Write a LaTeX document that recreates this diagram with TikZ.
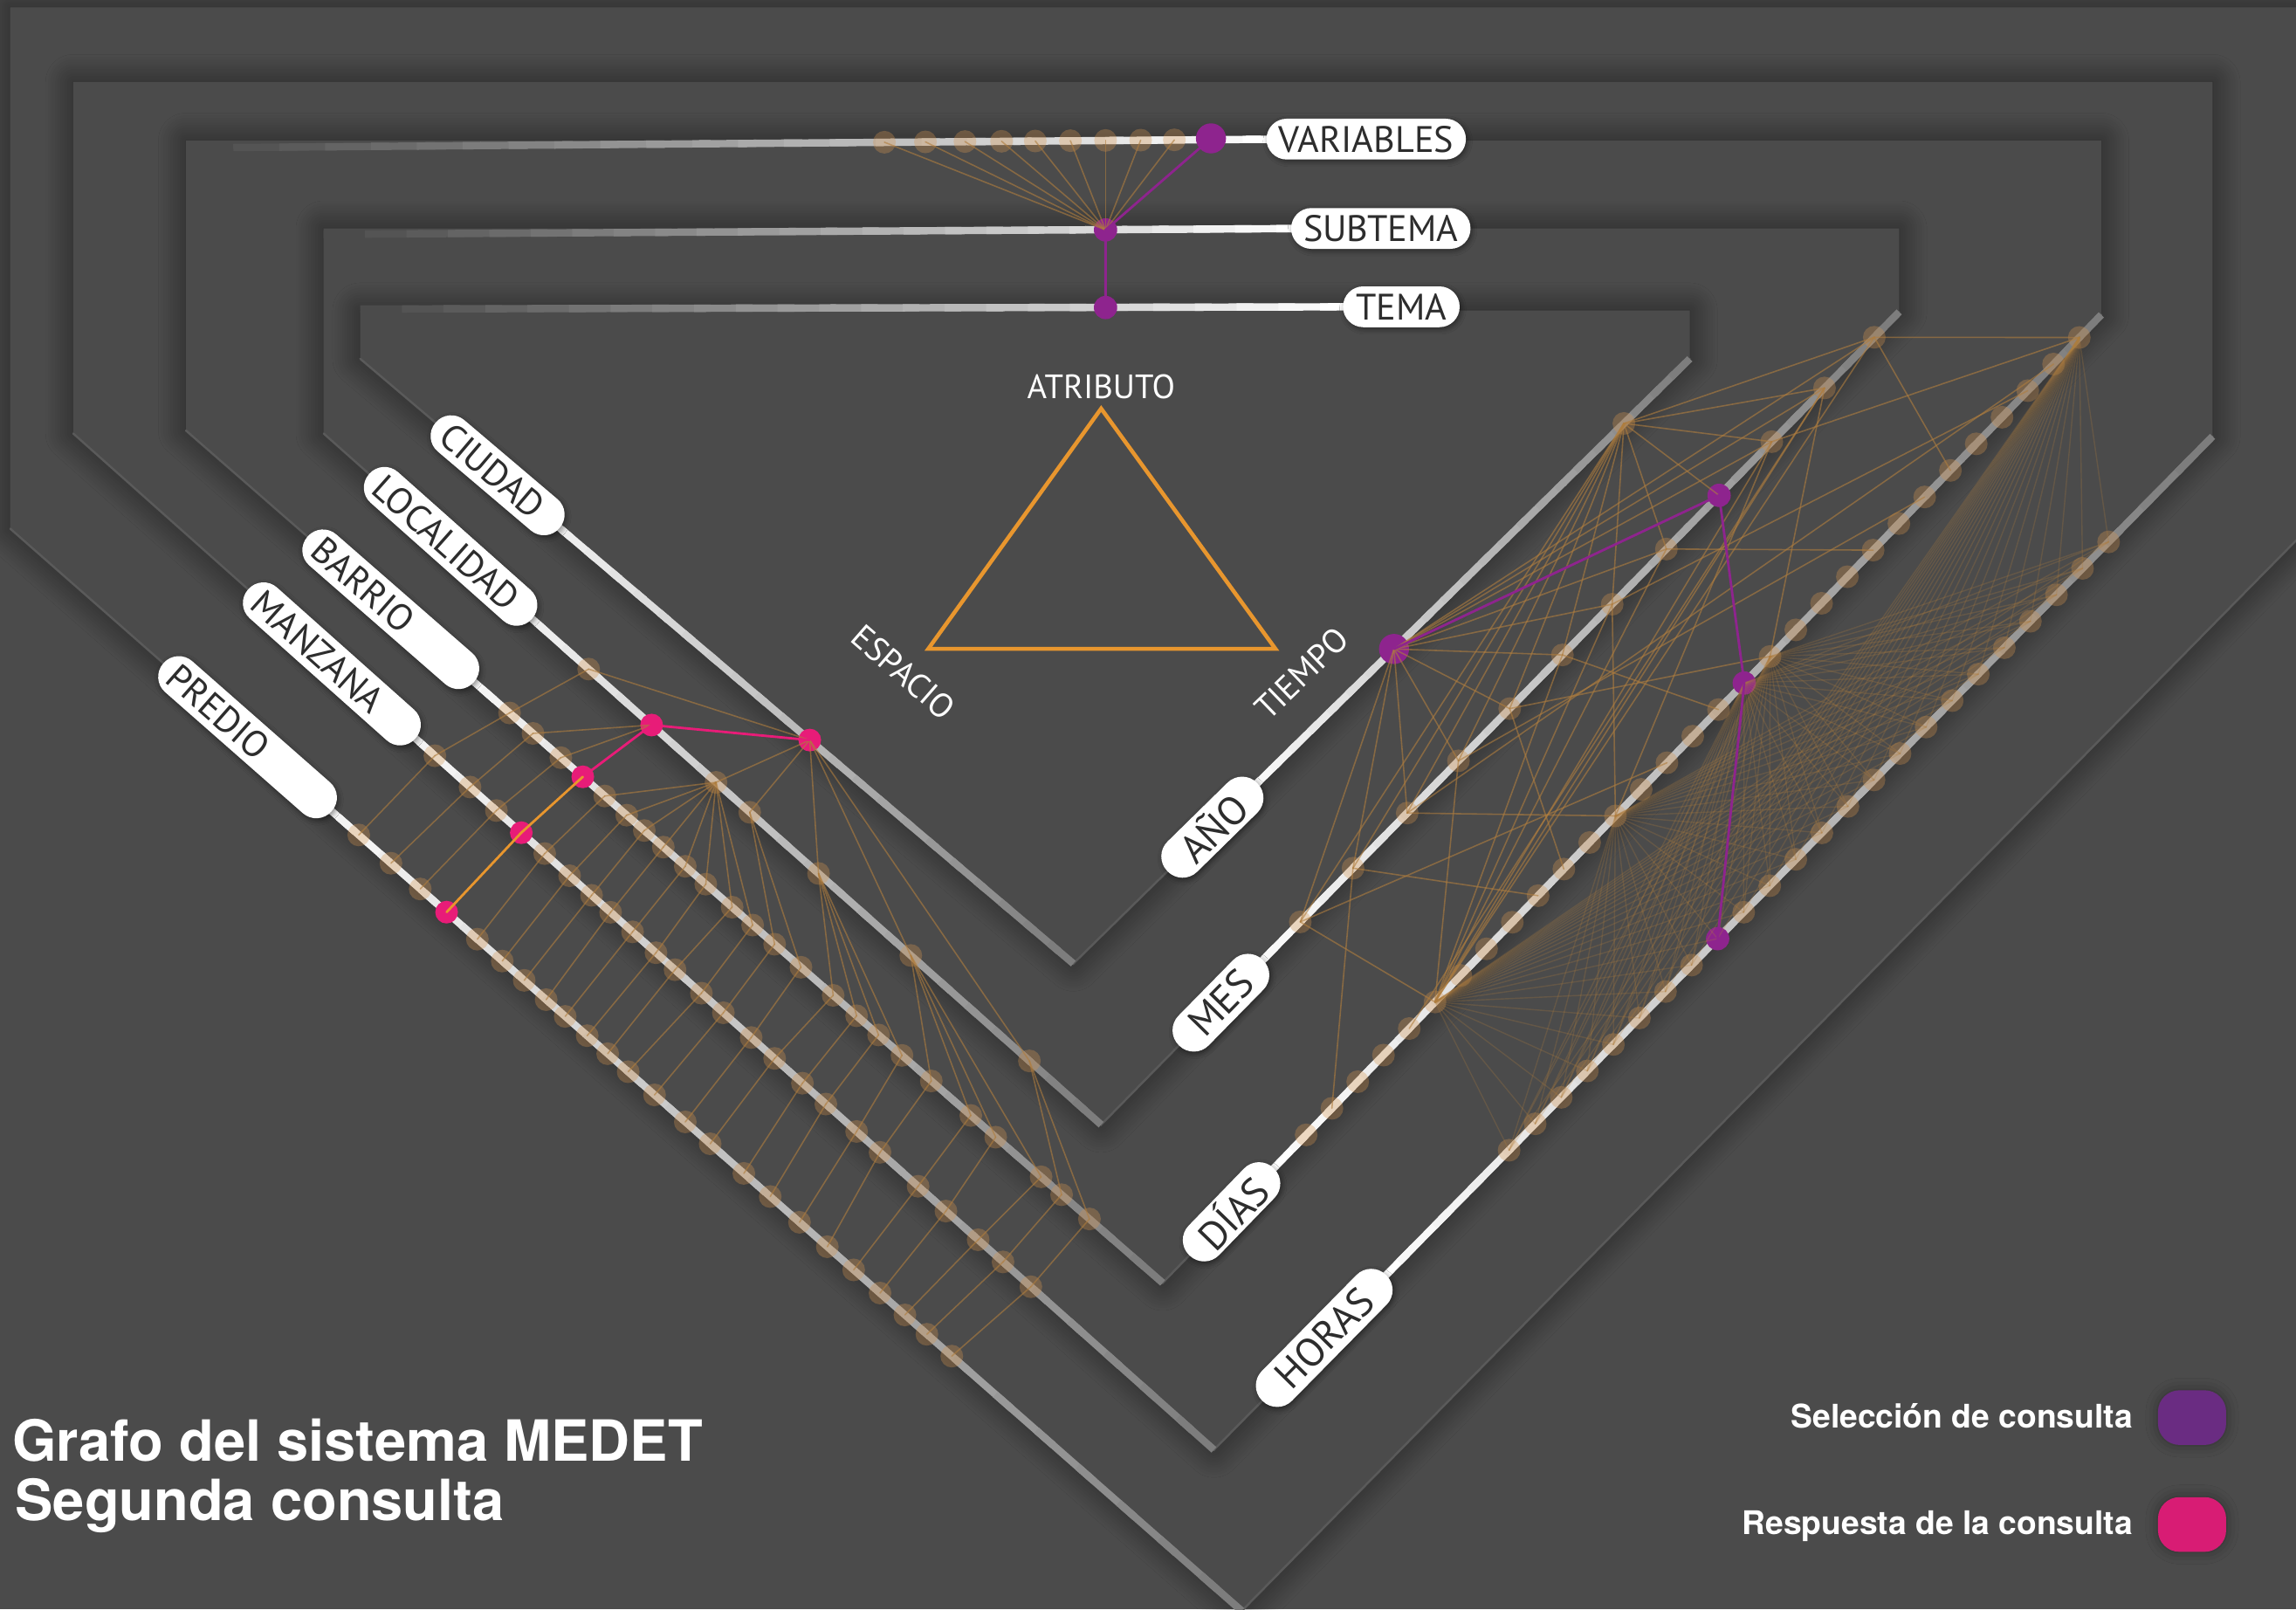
\documentclass[tikz,border=0pt]{standalone}
\usepackage{fontspec}
\setmainfont{PT Sans}
\newfontfamily\heros{TeX Gyre Heros}
\usetikzlibrary{calc,shadows.blur}

\definecolor{bggray}{RGB}{75,75,75}
\definecolor{rimgray}{RGB}{90,90,90}
\definecolor{trackgray}{RGB}{125,125,125}
\definecolor{tanfill}{RGB}{215,150,80}
\definecolor{tanline}{RGB}{175,125,62}
\definecolor{selpurple}{RGB}{142,36,142}
\definecolor{respink}{RGB}{232,28,120}
\definecolor{pathorange}{RGB}{232,150,46}
\definecolor{tagtext}{RGB}{45,45,45}
\definecolor{legpurple}{RGB}{106,44,130}
\definecolor{legpink}{RGB}{216,28,116}

\newcommand{\tagfont}{\fontsize{12}{14}\selectfont}
\newcommand{\timefont}{\fontsize{13}{15}\selectfont}
\newcommand{\sidefont}{\fontsize{11}{13}\selectfont}
\newcommand{\legendfont}{\heros\bfseries\fontsize{10.6}{12}\selectfont}
\newcommand{\headfont}{\heros\bfseries\fontsize{18.5}{21}\selectfont}

% track with a colour ramp from #3 (at #1) to #4 (at #2)
\newcommand{\ramp}[4]{%
  \foreach \k in {0,...,23}{%
    \pgfmathsetmacro\ta{\k/24}%
    \pgfmathsetmacro\tb{min((\k+1.4)/24,1)}%
    \pgfmathtruncatemacro\mix{100-\k*100/23}%
    \draw[track,draw=#3!\mix!#4] ($(#1)!\ta!(#2)$) -- ($(#1)!\tb!(#2)$);}}

\begin{document}
\begin{tikzpicture}[x=0.1677mm,y=-0.1677mm,line cap=round,
  panel/.style={fill=bggray,blur shadow={shadow xshift=0pt,shadow yshift=0pt,shadow blur radius=9pt,shadow blur steps=12,shadow opacity=55}},
  rim/.style={draw=rimgray,line width=0.7pt},
  track/.style={line width=2.4pt,line cap=butt},
  tandot/.style={circle,fill=tanfill,fill opacity=0.32,minimum size=7.4pt,inner sep=0pt},
  seldot/.style={circle,fill=selpurple,minimum size=7.6pt,inner sep=0pt},
  bigsel/.style={seldot,minimum size=9.8pt},
  resdot/.style={circle,fill=respink,minimum size=7.4pt,inner sep=0pt},
  link/.style={draw=tanline,line width=0.45pt,opacity=0.6},
  faint/.style={draw=tanline,line width=0.4pt,opacity=0.25},
  sellink/.style={draw=selpurple,line width=0.8pt},
  reslink/.style={draw=respink,line width=0.8pt},
  orlink/.style={draw=pathorange,line width=0.8pt},
  tag/.style={fill=white,rounded corners=6.6pt,minimum height=13.4pt,inner ysep=0pt,inner xsep=4pt,text=tagtext,font=\tagfont,
    blur shadow={shadow xshift=0.5pt,shadow yshift=-0.7pt,shadow blur radius=1.6pt,shadow opacity=45}},
  spacetag/.style={tag,sloped,anchor=west,align=left},
  timetag/.style={tag,sloped,anchor=west,font=\timefont,minimum height=13.8pt,rounded corners=6.8pt},
  side/.style={text=white,font=\sidefont},
  headline/.style={text=white,font=\headfont,anchor=base west,inner sep=0pt},
  legend/.style={text=white,font=\legendfont,anchor=base east,inner sep=0pt},
  swatch/.style={minimum width=22.2pt,minimum height=17.8pt,rounded corners=7pt,blur shadow={shadow xshift=0pt,shadow yshift=0pt,shadow blur radius=4pt,shadow opacity=35}}]
\useasboundingbox (0,0) rectangle (1568,1099);
\fill[bggray] (0,0) rectangle (1568,1099);

\coordinate (cA) at (7,361);   \coordinate (vA) at (848,1100); \coordinate (rA) at (1640,296);
\coordinate (cB) at (50,296);  \coordinate (vB) at (829,990);  \coordinate (rB) at (1511,298);
\coordinate (cC) at (127,294); \coordinate (vC) at (794,876);  \coordinate (rC) at (1435,215);
\coordinate (cD) at (221,296); \coordinate (vD) at (752,768);  \coordinate (rD) at (1297,213);
\coordinate (cE) at (246,245); \coordinate (vE) at (733,658);  \coordinate (rE) at (1154,245);
\coordinate (tC) at (128,101); \coordinate (tD) at (221,160);  \coordinate (tE) at (246,211);
\coordinate (varS) at (880,95);  \coordinate (subS) at (900,156); \coordinate (temS) at (930,209.5);
\coordinate (ciuS) at ($(cE)!.18!(vE)$);
\coordinate (locS) at ($(cD)!.17!(vD)$);
\coordinate (barS) at ($(cC)!.24!(vC)$);
\coordinate (manS) at ($(cB)!.24!(vB)$);
\coordinate (preS) at ($(cA)!.20!(vA)$);
\coordinate (anoS) at ($(vE)!.26!(rE)$);
\coordinate (mesS) at ($(vD)!.17!(rD)$);
\coordinate (diaS) at ($(vC)!.1!(rC)$);
\coordinate (horS) at ($(vB)!.15!(rB)$);

\begin{scope}
\clip (0,0) rectangle (1568,1099);
\fill[panel] (7,5) -- (1640,5) -- (rA) -- (vA) -- (cA) -- cycle;
\fill[panel] (50,56) -- (1511,56) -- (rB) -- (vB) -- (cB) -- cycle;
\fill[panel] (127,96) -- (1435,96) -- (rC) -- (vC) -- (cC) -- cycle;
\fill[panel] (221,156) -- (1297,156) -- (rD) -- (vD) -- (cD) -- cycle;
\fill[panel] (246,212) -- (1154,212) -- (rE) -- (vE) -- (cE) -- cycle;
\draw[rim] (cA) -- (vA) -- (rA);
\draw[rim] (cB) -- (vB) -- (rB);
\draw[rim] (cC) -- (vC) -- (rC);
\draw[rim] (cD) -- (vD) -- (rD);
\draw[rim] (cE) -- (vE) -- (rE);
\end{scope}

\ramp{tC}{varS}{bggray}{white}
\ramp{tD}{subS}{bggray}{white}
\ramp{tE}{temS}{bggray}{white}
\ramp{ciuS}{vE}{white}{trackgray}
\ramp{locS}{vD}{white}{trackgray}
\ramp{barS}{vC}{white}{trackgray}
\ramp{manS}{vB}{white}{trackgray}
\ramp{preS}{vA}{white}{trackgray}
\ramp{anoS}{rE}{white}{trackgray}
\ramp{mesS}{rD}{white}{trackgray}
\ramp{diaS}{rC}{white}{trackgray}
\ramp{horS}{rB}{white}{trackgray}

\coordinate (apexA) at (752,279);
\coordinate (apexE) at (634,443);
\coordinate (apexT) at (871,443);
\draw[pathorange,line width=1.3pt,line join=miter] (apexA) -- (apexT) -- (apexE) -- cycle;
\node[side] (atributo) at (752,264) {ATRIBUTO};
\node[side,rotate=-41] (espacio) at (617,459) {ESPACIO};
\node[side,rotate=44] (tiempo) at (889,460) {TIEMPO};

\foreach \x [count=\i] in {604,632,659,684,707,731,755,779,802}
  \node[tandot] (va\i) at (\x,{101-(\x-128)*0.00813}) {};
\node[bigsel] (vaP) at (827,94.5) {};
\node[seldot] (suP) at (755,157) {};
\node[seldot] (teP) at (755,210) {};

\foreach \x [count=\i] in {245,267,287,326,343,358,373,386,401,415,429,447,468,485,508,526,546,565,583,601,618,633,650}
  \node[tandot] (pr\i) at (\x,{361+(\x-7)*0.87872}) {};
\foreach \x [count=\i] in {297,321,339,372,389,404,417,432,448,461,479,494,513,529,548,564,585,601,627,646,668,685,704}
  \node[tandot] (mz\i) at (\x,{296+(\x-50)*0.89089}) {};
\foreach \x [count=\i] in {348,364,383,413,428,440,453,468,482,500,514,529,547,569,585,600,616,636,663,680,711,725,744}
  \node[tandot] (br\i) at (\x,{294+(\x-127)*0.87256}) {};
\foreach \x [count=\i] in {402,489,512,559,622,703}
  \node[tandot] (lo\i) at (\x,{296+(\x-221)*0.88889}) {};
\node[resdot] (prP) at (305,{361+(305-7)*0.87872}) {};
\node[resdot] (mzP) at (356,{296+(356-50)*0.89089}) {};
\node[resdot] (brP) at (398,{294+(398-127)*0.87256}) {};
\node[resdot] (loP) at (445,{296+(445-221)*0.88889}) {};
\node[resdot] (ciP) at (553,{245+(553-246)*0.84805}) {};

\node[tandot] (an1) at (1109,{245+(1154-1109)*0.981}) {};
\foreach \x [count=\i] in {1280,1246,1210,1174,1138,1101,1067,1031,996,961,924,888}
  \node[tandot] (me\i) at (\x,{213+(1297-\x)*1.01835}) {};
\foreach \i in {1,...,31}{
  \pgfmathsetmacro\x{1420-(\i-1)*17.6}
  \node[tandot] (di\i) at (\x,{215+(1435-\x)*1.0312}) {};}
\foreach \i in {1,...,24}{
  \pgfmathsetmacro\x{1440-(\i-1)*17.8}
  \node[tandot] (ho\i) at (\x,{298+(1511-\x)*1.01466}) {};}
\node[bigsel] (anP) at (952,{245+(1154-952)*0.981}) {};
\node[seldot] (meP) at (me4) {};
\node[seldot] (diP) at (di14) {};
\node[seldot] (hoP) at (ho16) {};

\foreach \i in {1,...,9} \draw[link] (va\i.center) -- (suP.center);
\draw[sellink] (vaP.center) -- (suP.center) -- (teP.center);

\foreach \i in {1,...,23} \draw[link] (pr\i.center) -- (mz\i.center);
\foreach \i in {1,...,23} \draw[link] (mz\i.center) -- (br\i.center);
\foreach \b/\l in {1/1,2/P,3/P,4/2,5/2,6/2,7/2,8/2,9/2,10/2,11/2,12/3,13/3,14/4,15/4,16/4,17/4,18/5,19/5,20/5,21/5,22/6,23/6}
  \draw[link] (br\b.center) -- (lo\l.center);
\foreach \i in {1,...,6} \draw[link] (lo\i.center) -- (ciP.center);
\draw[reslink] (ciP.center) -- (loP.center) -- (brP.center);
\draw[orlink] (brP.center) -- (mzP.center) -- (prP.center);

\foreach \i in {1,...,12} \draw[link] (an1.center) -- (me\i.center);
\foreach \i in {1,...,12} \draw[link] (anP.center) -- (me\i.center);
\foreach \a/\b in {1/1,1/6,1/26,2/13,2/27,2/26,3/1,3/19,3/26,5/26,5/9,6/19,6/3,6/26,7/26,7/15,8/13,8/21,9/26,9/7,10/19,10/2,11/22,11/30,12/26,12/17}
  \draw[link] (me\a.center) -- (di\b.center);
\foreach \a in {1,13,19,26}
  \foreach \b in {1,...,24} \draw[faint] (di\a.center) -- (ho\b.center);
\foreach \b in {1,...,24} \draw[faint] (diP.center) -- (ho\b.center);
\draw[sellink] (anP.center) -- (meP.center) -- (diP.center) -- (hoP.center);

\node[tag,minimum width=64pt,minimum height=13.3pt] (variables) at (933,95) {VARIABLES};
\node[tag,minimum width=54pt,minimum height=13.3pt] (subtema) at (943,156) {SUBTEMA};
\node[tag,minimum width=38pt,minimum height=13.3pt] (tema) at (957,209.5) {TEMA};
\path (cE) -- (vE) node[spacetag,pos=.105,text width=45pt] (ciudad) {CIUDAD};
\path (cD) -- (vD) node[spacetag,pos=.058,text width=63pt] (localidad) {LOCALIDAD};
\path (cC) -- (vC) node[spacetag,pos=.124,text width=64pt] (barrio) {BARRIO};
\path (cB) -- (vB) node[spacetag,pos=.153,text width=65pt] (manzana) {MANZANA};
\path (cA) -- (vA) node[spacetag,pos=.124,text width=65pt] (predio) {PREDIO};
\path (vE) -- (rE) node[timetag,pos=.152,minimum width=41pt] (anio) {AÑO};
\path (vD) -- (rD) node[timetag,pos=.097,minimum width=39pt] (mes) {MES};
\path (vC) -- (rC) node[timetag,pos=.028,minimum width=39.5pt] (dias) {DÍAS};
\path (vB) -- (rB) node[timetag,pos=.048,minimum width=57.5pt] (horas) {HORAS};

\node[headline] (grafo) at (8,998) {Grafo del sistema MEDET};
\node[headline] (segunda) at (10,1038) {Segunda consulta};
\node[legend] (selleg) at (1457,975) {Selección de consulta};
\node[legend] (resleg) at (1457,1048) {Respuesta de la consulta};
\node[swatch,fill=legpurple] (selbox) at (1497,968) {};
\node[swatch,fill=legpink] (resbox) at (1497,1041) {};
\end{tikzpicture}
\end{document}
